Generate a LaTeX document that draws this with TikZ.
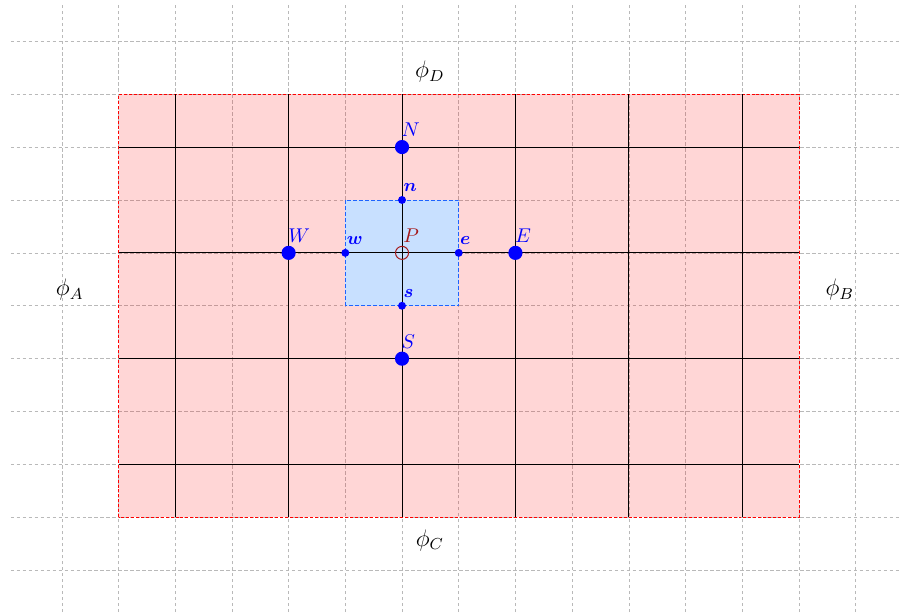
\documentclass[tikz,border=0pt]{standalone}
\usepackage{amsmath,amssymb,bm}
\usetikzlibrary{positioning}
\definecolor{cellblue}{RGB}{200,224,255}
\definecolor{edgeblue}{RGB}{30,100,255}
\definecolor{pdark}{RGB}{165,25,25}
\begin{document}
\begin{tikzpicture}[x=1cm, y=0.933cm,
    help/.style={gray!55, line width=0.3pt, dash pattern=on 1.8pt off 1.2pt},
    mesh/.style={black, line width=0.45pt},
    bignode/.style={circle, fill=blue, inner sep=0pt, minimum size=0.25cm},
    facenode/.style={circle, fill=blue, inner sep=0pt, minimum size=0.14cm},
    lab/.style={text=blue, inner sep=1.5pt}]
  \useasboundingbox (-7.09,-6.79) rectangle (8.8,4.78);
  % background grid
  \foreach \i in {-6,...,8} \draw[help] (\i,-6.79) -- (\i,4.69);
  \foreach \j in {-6,...,4} \draw[help] (-6.9,\j) -- (8.8,\j);
  % domain
  \fill[red, fill opacity=0.16] (-5,-5) rectangle (7,3);
  \draw[red, line width=0.4pt, dash pattern=on 1.5pt off 1pt] (-5,-5) rectangle (7,3);
  % control volume
  \draw[edgeblue, fill=cellblue, line width=0.4pt, dash pattern=on 2pt off 1pt]
    (-1,-1) rectangle (1,1);
  % mesh lines
  \foreach \i in {-4,-2,...,6} \draw[mesh] (\i,-5) -- (\i,3);
  \foreach \j in {-4,-2,0,2} \draw[mesh] (-5,\j) -- (7,\j);
  % neighbour nodes
  \node[bignode] (N) at (0,2) {};
  \node[bignode] (S) at (0,-2) {};
  \node[bignode] (W) at (-2,0) {};
  \node[bignode] (E) at (2,0) {};
  \node[lab, above right=1pt and -4.5pt of N] (Nlab) {$N$};
  \node[lab, above right=1pt and -4.5pt of S] (Slab) {$S$};
  \node[lab, above right=1pt and -4.5pt of W] (Wlab) {$W$};
  \node[lab, above right=1pt and -4.5pt of E] (Elab) {$E$};
  % face nodes
  \node[facenode] (n) at (0,1) {};
  \node[facenode] (s) at (0,-1) {};
  \node[facenode] (w) at (-1,0) {};
  \node[facenode] (e) at (1,0) {};
  \node[lab, font=\small, above right=1pt and -2.5pt of n] (nlab) {$\bm{n}$};
  \node[lab, font=\small, above right=1pt and -2.5pt of s] (slab) {$\bm{s}$};
  \node[lab, font=\small, above right=1pt and -2.5pt of w] (wlab) {$\bm{w}$};
  \node[lab, font=\small, above right=1pt and -2.5pt of e] (elab) {$\bm{e}$};
  % centre
  \node[circle, draw=pdark, line width=0.5pt, inner sep=0pt, minimum size=0.23cm] (P) at (0,0) {};
  \node[text=pdark, inner sep=1.5pt, above right=1pt and -3.5pt of P] (Plab) {$P$};
  % boundary values
  \node[font=\large] (phiA) at (-5.86,-0.7) {$\phi_A$};
  \node[font=\large] (phiB) at (7.72,-0.7) {$\phi_B$};
  \node[font=\large] (phiC) at (0.49,-5.43) {$\phi_C$};
  \node[font=\large] (phiD) at (0.49,3.42) {$\phi_D$};
\end{tikzpicture}
\end{document}
